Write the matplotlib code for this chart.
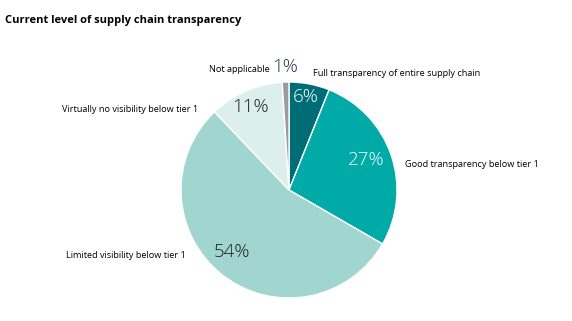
import matplotlib
matplotlib.use("Agg")
import matplotlib.pyplot as plt
import numpy as np

plt.rcParams["font.family"] = ["Open Sans", "DejaVu Sans"]

categories = ["Full transparency of entire supply chain",
              "Good transparency below tier 1",
              "Limited visibility below tier 1",
              "Virtually no visibility below tier 1",
              "Not applicable"]
shares = [6, 27, 54, 11, 1]
pct_labels = ["6%", "27%", "54%", "11%", "1%"]

COLORS = ["#006c75", "#00aaa7", "#a0d5d0", "#ddefea", "#9b9b9b"]
PCT_COLORS = ["white", "white", "#1e1e1e", "#1e1e1e", "#24364a"]

W, H = 572, 321
fig = plt.figure(figsize=(W / 100, H / 100), dpi=100)
cx, cy, R = 289, 190, 108
ax = fig.add_axes([(cx - R) / W, (H - cy - R) / H, 2 * R / W, 2 * R / H])
ax.pie(shares, colors=COLORS, startangle=90, counterclock=False,
       wedgeprops=dict(edgecolor="white", linewidth=1.0))
ax.set_xlim(-1, 1)
ax.set_ylim(-1, 1)
ax.set_aspect("equal")
ax.axis("off")


def px(x, y):
    return x / W, 1 - y / H


# percentage labels (pixel positions of text centres)
pct_pos = [(306, 97), (366, 160), (232, 252), (250, 107), (285, 67)]
for lab, (x, y), c in zip(pct_labels, pct_pos, PCT_COLORS):
    fig.text(*px(x, y), lab, ha="center", va="center", fontsize=13.5,
             fontweight="light", color=c)

# category labels: (x, y, ha)
lab_pos = [(313, 74, "left"), (405, 165, "left"), (186, 256, "right"),
           (198, 110, "right"), (270, 70, "right")]
for lab, (x, y, ha) in zip(categories, lab_pos):
    fig.text(*px(x, y), lab, ha=ha, va="center", fontsize=6.6,
             color="black")

fig.text(*px(5, 21), "Current level of supply chain transparency",
         ha="left", va="center", fontsize=8, fontweight="bold",
         color="black")

fig.savefig("out.png", dpi=100)
